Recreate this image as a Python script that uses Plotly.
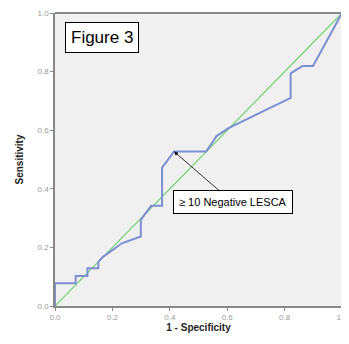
import plotly.graph_objects as go

# ROC curve points (1 - specificity, sensitivity)
fpr = [0.0, 0.0, 0.072, 0.072, 0.113, 0.113, 0.151, 0.151, 0.165, 0.233, 0.299, 0.299,
       0.335, 0.373, 0.373, 0.415, 0.527, 0.563, 0.603, 0.821, 0.821, 0.862, 0.899, 1.0]
tpr = [0.0, 0.078, 0.078, 0.102, 0.102, 0.129, 0.129, 0.150, 0.166, 0.214, 0.237, 0.294,
       0.342, 0.342, 0.472, 0.527, 0.527, 0.580, 0.606, 0.710, 0.794, 0.819, 0.819, 1.0]
ref_x = [0.0, 1.0]
ref_y = [0.0, 1.0]
tick_vals = [0.0, 0.2, 0.4, 0.6, 0.8, 1.0]
tick_text = ["0.0", "0.2", "0.4", "0.6", "0.8", "1.0"]

NARROW = "Liberation Sans Narrow, Arial Narrow, Liberation Sans, Arial"

fig = go.Figure()
fig.add_trace(go.Scatter(x=ref_x, y=ref_y, mode="lines",
                         line=dict(color="#6fcf6f", width=1.2), showlegend=False))
fig.add_trace(go.Scatter(x=fpr, y=tpr, mode="lines",
                         line=dict(color="#7d8fd2", width=2), showlegend=False))

fig.add_annotation(x=0.034, y=0.969, xref="paper", yref="paper", xanchor="left", yanchor="top",
                   text="Figure 3", showarrow=False,
                   font=dict(family=NARROW, size=17, color="#000"),
                   bgcolor="#ffffff", bordercolor="#000", borderwidth=1, borderpad=5)

fig.add_annotation(x=0.415, y=0.527, xref="x", yref="y",
                   ax=0.619, ay=0.354, axref="x", ayref="y",
                   text="≥ 10 Negative LESCA", showarrow=True,
                   arrowhead=2, arrowsize=1, arrowwidth=0.8, arrowcolor="#000",
                   font=dict(family=NARROW, size=11, color="#000"),
                   bgcolor="#ffffff", bordercolor="#000", borderwidth=1, borderpad=5)

axis_common = dict(range=[0, 1], tickvals=tick_vals, ticktext=tick_text,
                   showgrid=False, zeroline=False, showline=True,
                   linecolor="#888", linewidth=1.5,
                   ticks="outside", ticklen=3, tickcolor="#888",
                   ticklabeloverflow="allow",
                   tickfont=dict(family="Liberation Sans, Arial", size=8, color="#999"))

fig.update_xaxes(**axis_common,
                 title=dict(text="1 - Specificity", standoff=2,
                            font=dict(family="Liberation Sans, Arial", size=10, color="#222", weight="bold")))
fig.update_yaxes(**axis_common,
                 title=dict(text="Sensitivity", standoff=12,
                            font=dict(family="Liberation Sans, Arial", size=10, color="#222", weight="bold")))

fig.add_shape(type="line", xref="paper", yref="paper", x0=0, x1=1, y0=1, y1=1,
              line=dict(color="#888", width=2))

# page body has an 8px margin, so the figure is sized to end at the window edge
fig.update_layout(width=341, height=336, margin=dict(l=47, r=1, t=3, b=38),
                  plot_bgcolor="#f0f0f0", paper_bgcolor="#ffffff")

fig.write_html("out.html")
